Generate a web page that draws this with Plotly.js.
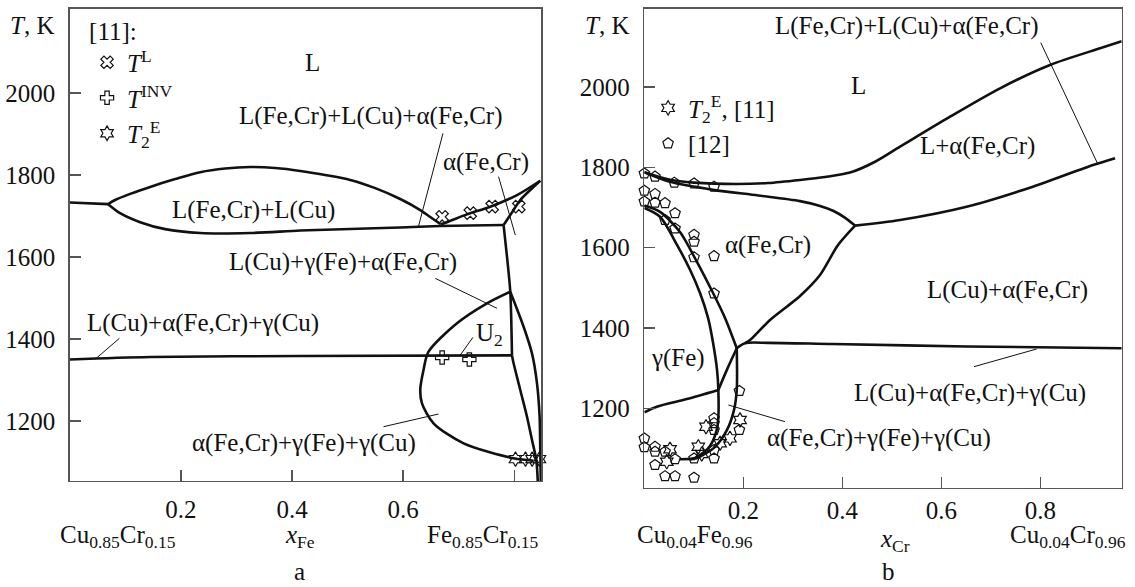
<!DOCTYPE html>
<html><head><meta charset="utf-8">
<script src="https://cdn.plot.ly/plotly-3.0.1.min.js"></script>
<style>html,body{margin:0;padding:0;background:#fff}</style>
</head><body><div id="chart" style="width:1135px;height:587px"></div>
<script>
// ===== Panel a: section Cu0.85Cr0.15 – Fe0.85Cr0.15 (x_Fe, T in K) =====
const aLiqLeftX = [0, 0.069];
const aLiqLeftT = [1733, 1729];
const aGapTopX = [0.069,0.0815,0.1086,0.1446,0.1896,0.2346,0.2796,0.3246,0.3696,0.4146,0.4596,0.5046,0.5496,0.5946,0.6306,0.6486,0.6666];
const aGapTopT = [1729,1739,1754,1771,1790,1807,1816,1819.5,1817,1810,1800,1788,1768,1741.5,1714.6,1697.6,1680.5];
const aGapBotX = [0.069,0.0905,0.1266,0.1716,0.2346,0.3246,0.4146,0.5046,0.5946,0.6666,0.7206,0.7806];
const aGapBotT = [1729,1707,1685,1668,1658.5,1658.5,1664.6,1668.3,1672,1675.6,1676.8,1678];
const aLiqRightX = [0.6666,0.6725,0.7147,0.7566,0.8047,0.8466];
const aLiqRightT = [1680.5,1682,1704,1722.7,1751,1786];
const aAlphaX = [0.7806,0.7986,0.8106,0.8466];
const aAlphaT = [1678,1714.6,1739,1786];
const aV1X = [0.7806,0.7867,0.7926,0.7957];
const aV1T = [1678,1600.7,1515.4,1360];
const aV2X = [0.7957,0.7986,0.8106,0.8227,0.8317,0.8394,0.8421];
const aV2T = [1360,1340.7,1275.6,1210.5,1153.7,1104.9,1053.7];
const aV3X = [0.7926,0.8166,0.8317,0.8407,0.8454,0.8466,0.8475];
const aV3T = [1515.4,1430,1365,1292,1210.5,1129,1053.7];
const aLoopX = [0.7926,0.7507,0.6967,0.6455,0.6365,0.6306,0.6337,0.6545,0.7086,0.7986,0.8346];
const aLoopT = [1515.4,1487,1438.3,1369,1324.4,1275.6,1243.2,1194.4,1145.6,1109,1103.2];
const aU2X = [0,0.1446,0.4146,0.7957];
const aU2T = [1350,1356,1358.5,1360];
// experimental points [11]
const aTLX = [0.670,0.7206,0.760,0.808];
const aTLT = [1698,1707,1723,1723];
const aTinvX = [0.670,0.719];
const aTinvT = [1355,1350];
const aTEX = [0.802,0.820,0.832,0.845,0.849];
const aTET = [1107,1107,1107,1107,1137];

// ===== Panel b: section Cu0.04Fe0.96 – Cu0.04Cr0.96 (x_Cr, T in K) =====
const bLiqX = [0,0.052,0.10,0.187,0.25,0.3145,0.365,0.4155,0.4661,0.5166,0.6176,0.7186,0.8196,0.9206,0.9644];
const bLiqT = [1788,1769,1762,1758.6,1761,1768.6,1776,1787,1814,1851.6,1926.3,1997,2055,2096.6,2114];
const bSolX = [0,0.052,0.139,0.23,0.3145,0.355,0.3812,0.405,0.4257];
const bSolT = [1788,1764,1744,1730,1716,1704,1692,1675,1655];
const bLaX = [0.4257,0.5166,0.651,0.785,0.9065,0.951];
const bLaT = [1655,1669,1702,1752,1806,1823];
const bAlphaDownX = [0.4257,0.3913,0.3549,0.3145,0.2877,0.2539,0.2135,0.2034];
const bAlphaDownT = [1655,1606.7,1532,1479.7,1453,1420,1370,1362];
const bHorX = [0.1867,0.2034,0.25,0.381,0.651,0.9644];
const bHorT = [1349.4,1362,1363,1360,1354,1349.4];
const bAX = [0,0.0317,0.072,0.1065,0.1388,0.163,0.1867];
const bAT = [1705,1689,1639,1564,1487,1425,1349.4];
const bBX = [0,0.0317,0.066,0.0923,0.1125,0.1287,0.1388,0.1469,0.1495,0.1495,0.1463,0.1327,0.1186,0.1024,0.0923];
const bBT = [1699,1677,1607,1545,1487,1425,1363,1295,1246,1178,1146,1106,1089,1076,1073];
const bCX = [0.1867,0.1867,0.1812,0.167,0.143,0.119,0.1024];
const bCT = [1349.4,1246,1196,1146,1104,1084,1074];
const bDX = [0,0.025,0.0857,0.1495];
const bDT = [1190,1204,1223,1245.6];
const bEX = [0.1495,0.1665,0.1867];
const bET = [1245.6,1295,1349.4];
const bBotX = [0.072,0.1024];
const bBotT = [1073,1074];
// experimental points
const bTEX = [0.0519,0.0453,0.109,0.1246,0.116,0.153,0.173,0.1933];
const bTET = [1098,1067,1104,1154,1086,1113,1125,1171];
const bP12X = [0,0.0216,0.0606,0.1004,0.1408,0,0.0216,0,0.0216,0.0418,0.062,0.0418,0.062,0.1004,0.1004,0.1004,0.1408,0.1408,0.192,0.1408,0.1408,0.1408,0.192,0,0,0.0216,0.0216,0.0418,0.062,0.1004,0.1408,0.1408,0.0216,0.0418,0.062,0.1004];
const bP12T = [1785,1777,1762,1760,1752,1742,1734,1715,1712,1711,1686,1669,1648,1632,1615,1576,1579,1486,1243,1175,1163,1146,1146,1125,1103,1104,1092,1092,1073,1075,1075,1096,1059,1031,1031,1027];

// tick values / labels
const yTicks = [1200,1400,1600,1800,2000];
const xTicks = [0.2,0.4,0.6,0.8];
const aXTickText = ['0.2','0.4','0.6',''];
const bXTickText = ['0.2','0.4','0.6','0.8'];

const FONT = 'Times New Roman, Liberation Serif, DejaVu Serif, serif';
const INK = '#111';

function curve(x, y, xa, ya, smooth) {
  return {x: x, y: y, xaxis: xa, yaxis: ya, type: 'scatter', mode: 'lines',
          line: {color: INK, width: 2.6, shape: smooth ? 'spline' : 'linear', smoothing: 0.8},
          showlegend: false, hoverinfo: 'skip'};
}
function pts(x, y, xa, ya, sym, name, leg, size) {
  return {x: x, y: y, xaxis: xa, yaxis: ya, type: 'scatter', mode: 'markers', name: name,
          legend: leg, showlegend: true, cliponaxis: false, legendgroup: name,
          marker: {symbol: sym, size: size || 11, color: INK, line: {color: INK, width: 1.2}}};
}

const traces = [
  curve(aLiqLeftX, aLiqLeftT, 'x', 'y', false),
  curve(aGapTopX, aGapTopT, 'x', 'y', true),
  curve(aGapBotX, aGapBotT, 'x', 'y', true),
  curve(aLiqRightX, aLiqRightT, 'x', 'y', true),
  curve(aAlphaX, aAlphaT, 'x', 'y', true),
  curve(aV1X, aV1T, 'x', 'y', true),
  curve(aV2X, aV2T, 'x', 'y', true),
  curve(aV3X, aV3T, 'x', 'y', true),
  curve(aLoopX, aLoopT, 'x', 'y', true),
  curve(aU2X, aU2T, 'x', 'y', true),
  pts(aTLX, aTLT, 'x', 'y', 'x-open', '<i>T</i><sup>L</sup>', 'legend', 11),
  pts(aTinvX, aTinvT, 'x', 'y', 'cross-open', '<i>T</i><sup>INV</sup>', 'legend', 11),
  pts(aTEX, aTET, 'x', 'y', 'hexagram-open', '<i>T</i><sub>2</sub><sup>E</sup>', 'legend', 11),

  curve(bLiqX, bLiqT, 'x2', 'y2', true),
  curve(bSolX, bSolT, 'x2', 'y2', true),
  curve(bLaX, bLaT, 'x2', 'y2', true),
  curve(bAlphaDownX, bAlphaDownT, 'x2', 'y2', true),
  curve(bHorX, bHorT, 'x2', 'y2', true),
  curve(bAX, bAT, 'x2', 'y2', true),
  curve(bBX, bBT, 'x2', 'y2', true),
  curve(bCX, bCT, 'x2', 'y2', true),
  curve(bDX, bDT, 'x2', 'y2', true),
  curve(bEX, bET, 'x2', 'y2', true),
  curve(bBotX, bBotT, 'x2', 'y2', false),
  pts(bTEX, bTET, 'x2', 'y2', 'hexagram-open', '<i>T</i><sub>2</sub><sup>E</sup>, [11]', 'legend2', 11),
  pts(bP12X, bP12T, 'x2', 'y2', 'pentagon-open', '[12]', 'legend2', 11)
];

const axisBase = {
  showline: true, mirror: true, linecolor: '#555', linewidth: 1.5,
  ticks: 'inside', ticklen: 11, tickwidth: 1.5, tickcolor: '#555',
  showgrid: false, zeroline: false, fixedrange: true,
  tickfont: {family: FONT, size: 25, color: INK}
};

function lab(text, x, y, xr, yr, extra) {
  return Object.assign({text: text, x: x, y: y, xref: xr, yref: yr, showarrow: false,
    xanchor: 'center', yanchor: 'middle', font: {family: FONT, size: 25, color: INK}}, extra || {});
}
function leader(x0, y0, x1, y1, xr, yr) {
  return {type: 'line', x0: x0, y0: y0, x1: x1, y1: y1, xref: xr, yref: yr,
          line: {color: INK, width: 1}};
}

const annotations = [
  // panel a labels
  lab('L', 0.436, 2075, 'x', 'y'),
  lab('L(Fe,Cr)+L(Cu)+α(Fe,Cr)', 0.5406, 1944, 'x', 'y'),
  lab('α(Fe,Cr)', 0.7495, 1832, 'x', 'y'),
  lab('L(Fe,Cr)+L(Cu)', 0.331, 1714.6, 'x', 'y'),
  lab('L(Cu)+γ(Fe)+α(Fe,Cr)', 0.492, 1588.5, 'x', 'y'),
  lab('L(Cu)+α(Fe,Cr)+γ(Cu)', 0.2393, 1440, 'x', 'y'),
  lab('U<sub>2</sub>', 0.7548, 1410, 'x', 'y'),
  lab('α(Fe,Cr)+γ(Fe)+γ(Cu)', 0.422, 1146, 'x', 'y'),
  // panel b labels
  lab('L(Fe,Cr)+L(Cu)+α(Fe,Cr)', 0.5297, 2152, 'x2', 'y2'),
  lab('L', 0.4323, 2005, 'x2', 'y2'),
  lab('L+α(Fe,Cr)', 0.6731, 1853, 'x2', 'y2'),
  lab('α(Fe,Cr)', 0.2489, 1607, 'x2', 'y2'),
  lab('L(Cu)+α(Fe,Cr)', 0.7337, 1494.6, 'x2', 'y2'),
  lab('γ(Fe)', 0.0687, 1325, 'x2', 'y2'),
  lab('L(Cu)+α(Fe,Cr)+γ(Cu)', 0.658, 1238, 'x2', 'y2'),
  lab('α(Fe,Cr)+γ(Fe)+γ(Cu)', 0.4746, 1126, 'x2', 'y2'),
  // axis captions
  lab('<i>T</i>, K', 0.0286, 0.9574, 'paper', 'paper'),
  lab('<i>T</i>, K', 0.5352, 0.9574, 'paper', 'paper'),
  lab('Cu<sub>0.85</sub>Cr<sub>0.15</sub>', 0.104, 0.086, 'paper', 'paper'),
  lab('<i>x</i><sub>Fe</sub>', 0.2643, 0.086, 'paper', 'paper'),
  lab('Fe<sub>0.85</sub>Cr<sub>0.15</sub>', 0.4256, 0.086, 'paper', 'paper'),
  lab('a', 0.2643, 0, 'paper', 'paper', {yanchor: 'bottom'}),
  lab('Cu<sub>0.04</sub>Fe<sub>0.96</sub>', 0.6123, 0.086, 'paper', 'paper'),
  lab('<i>x</i><sub>Cr</sub>', 0.7885, 0.08, 'paper', 'paper'),
  lab('Cu<sub>0.04</sub>Cr<sub>0.96</sub>', 0.9414, 0.086, 'paper', 'paper'),
  lab('b', 0.7824, 0, 'paper', 'paper', {yanchor: 'bottom'})
];

const shapes = [
  leader(0.6715, 1901.7, 0.6276, 1675.6, 'x', 'y'),
  leader(0.7716, 1795.9, 0.8016, 1653.7, 'x', 'y'),
  leader(0.6576, 1548, 0.7687, 1474.9, 'x', 'y'),
  leader(0.7255, 1404.1, 0.7014, 1358.5, 'x', 'y'),
  leader(0.0893, 1401.7, 0.0455, 1350.5, 'x', 'y'),
  leader(0.5645, 1186.1, 0.6635, 1217.1, 'x', 'y'),
  leader(0.8008, 2110.6, 0.916, 1808.5, 'x2', 'y2'),
  leader(0.666, 1303.6, 0.7927, 1347.7, 'x2', 'y2'),
  leader(0.1697, 1208.2, 0.2842, 1166.6, 'x2', 'y2')
];

const legendBase = {
  xanchor: 'left', yanchor: 'top', bgcolor: 'rgba(0,0,0,0)', borderwidth: 0,
  font: {family: FONT, size: 25, color: INK}, itemwidth: 30, tracegroupgap: 0
};

const layout = {
  width: 1135, height: 587,
  margin: {l: 0, r: 0, t: 0, b: 0},
  paper_bgcolor: '#fff', plot_bgcolor: '#fff',
  font: {family: FONT, size: 25, color: INK},
  showlegend: true,
  xaxis: Object.assign({}, axisBase, {domain: [0.0615, 0.4767], range: [0, 0.848], anchor: 'y',
          tickvals: xTicks, ticktext: aXTickText, ticklabelstandoff: 6}),
  yaxis: Object.assign({}, axisBase, {domain: [0.1806, 0.9847], range: [1053.7, 2205], anchor: 'x',
          tickvals: yTicks, ticklabelstandoff: 8}),
  xaxis2: Object.assign({}, axisBase, {domain: [0.5677, 0.9883], range: [0, 0.9644], anchor: 'y2',
          tickvals: xTicks, ticktext: bXTickText, ticklabelstandoff: 0}),
  yaxis2: Object.assign({}, axisBase, {domain: [0.1687, 0.9847], range: [1001.5, 2194.5], anchor: 'x2',
          tickvals: yTicks, ticklabelstandoff: 8}),
  legend: Object.assign({}, legendBase, {x: 0.0767, y: 0.988,
          title: {text: '[11]:', font: {family: FONT, size: 25, color: INK}}}),
  legend2: Object.assign({}, legendBase, {x: 0.571, y: 0.855}),
  annotations: annotations,
  shapes: shapes
};

Plotly.newPlot('chart', traces, layout, {staticPlot: true, displayModeBar: false});
</script>
</body></html>
